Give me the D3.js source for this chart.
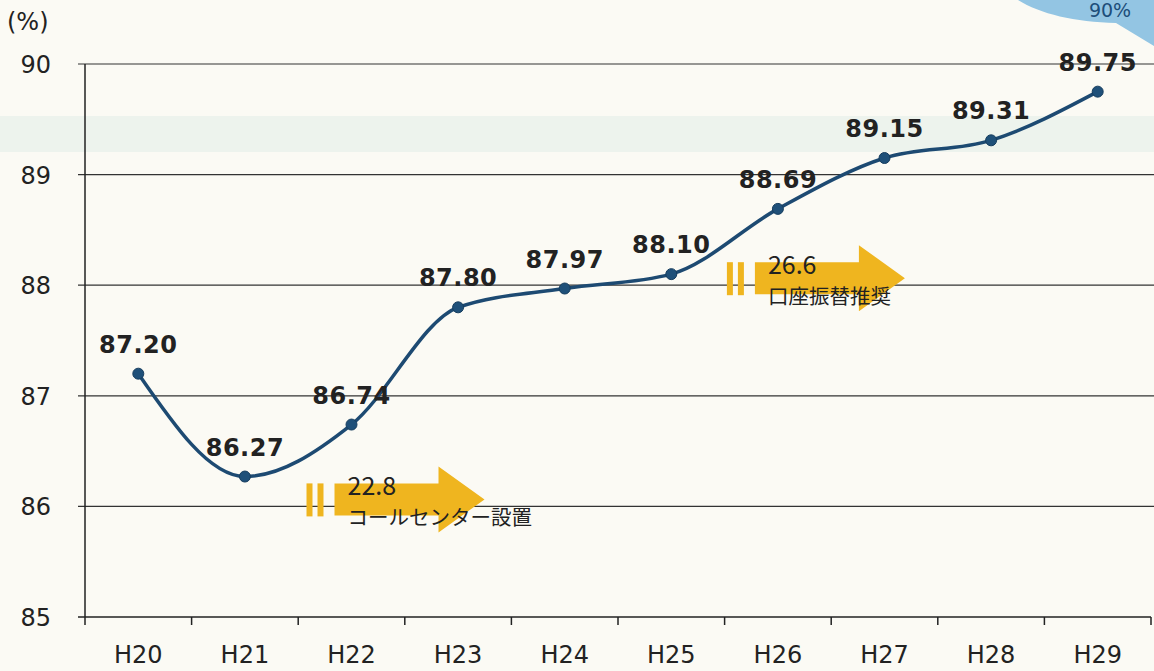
<!DOCTYPE html>
<html>
<head>
<meta charset="utf-8">
<script src="https://cdn.jsdelivr.net/npm/d3@7"></script>
<style>
  html, body { margin: 0; padding: 0; background: #fbfaf4; }
  svg { display: block; }
  .tick-label { font-family: "DejaVu Sans", Verdana, sans-serif; fill: #222; }
  .val { font-family: "DejaVu Sans", Verdana, sans-serif; font-weight: bold; fill: #222; }
  .note { font-family: "Noto Sans CJK JP", sans-serif; fill: #222; }
</style>
</head>
<body>
<svg id="chart" width="1154" height="671"></svg>
<script>
// data
const years = ["H20", "H21", "H22", "H23", "H24", "H25", "H26", "H27", "H28", "H29"];
const rates = [87.20, 86.27, 86.74, 87.80, 87.97, 88.10, 88.69, 89.15, 89.31, 89.75];
const yTicks = [85, 86, 87, 88, 89, 90];
const notes = [
    {year: "H22", value: 86.0, lines: ["22.8", "コールセンター設置"]},
    {year: "H26", value: 88.0, lines: ["26.6", "口座振替推奨"]}
];

// where each arrow starts, relative to its year's centre
const arrowDx = {H22: -45, H26: -51};

const W = 1154, H = 671;
const plotLeft = 85, plotRight = 1151, plotTop = 64, plotBottom = 617;

const svg = d3.select("#chart");

svg.append("rect").attr("width", W).attr("height", H).attr("fill", "#fbfaf4");
// faint band showing through from the page behind
svg.append("rect")
    .attr("x", 0).attr("y", 116).attr("width", W).attr("height", 36)
    .attr("fill", "#e4efe8").attr("opacity", 0.6);

// blue bubble in the corner
const bubble = svg.append("g");
bubble.append("path")
    .attr("d", "M1018,0 C1040,14 1075,22 1116,23 L1154,46 L1154,0 Z")
    .attr("fill", "#93c5e3");
bubble.append("text")
    .attr("x", 1110).attr("y", 17)
    .attr("text-anchor", "middle")
    .attr("font-family", "DejaVu Sans, sans-serif")
    .attr("font-size", 19)
    .attr("fill", "#1d4e7a")
    .text("90%");

const x = d3.scaleBand().domain(years).range([plotLeft, plotRight]);
const y = d3.scaleLinear().domain([85, 90]).range([plotBottom, plotTop]);
const cx = d => x(d) + x.bandwidth() / 2;

// gridlines
svg.append("g").selectAll("line")
    .data(yTicks.filter(t => t > 85))
    .enter().append("line")
    .attr("x1", plotLeft - 7).attr("x2", W)
    .attr("y1", d => y(d)).attr("y2", d => y(d))
    .attr("stroke", "#333").attr("stroke-width", 1.2);

// y axis
svg.append("line")
    .attr("x1", plotLeft).attr("x2", plotLeft)
    .attr("y1", y(90)).attr("y2", plotBottom)
    .attr("stroke", "#222").attr("stroke-width", 1.5);

// x axis
svg.append("line")
    .attr("x1", plotLeft - 7).attr("x2", plotRight)
    .attr("y1", plotBottom).attr("y2", plotBottom)
    .attr("stroke", "#222").attr("stroke-width", 1.5);

const bounds = years.map(d => x(d)).concat([plotRight]);
svg.append("g").selectAll("line")
    .data(bounds)
    .enter().append("line")
    .attr("x1", d => d).attr("x2", d => d)
    .attr("y1", plotBottom).attr("y2", plotBottom + 8)
    .attr("stroke", "#222").attr("stroke-width", 1.5);

svg.append("g").selectAll("text")
    .data(yTicks)
    .enter().append("text")
    .attr("class", "tick-label")
    .attr("x", 51).attr("y", d => y(d) + 9)
    .attr("text-anchor", "end")
    .attr("font-size", 24)
    .text(d => d);

svg.append("g").selectAll("text")
    .data(years)
    .enter().append("text")
    .attr("class", "tick-label")
    .attr("x", d => cx(d)).attr("y", 663)
    .attr("text-anchor", "middle")
    .attr("font-size", 24)
    .text(d => d);

svg.append("text")
    .attr("class", "tick-label")
    .attr("x", 7).attr("y", 30)
    .attr("font-size", 24)
    .text("(%)");

// arrows with notes
const gold = "#efb51f";
notes.forEach(n => {
    const x0 = cx(n.year) + arrowDx[n.year];
    const yc = y(n.value) - 7;
    const g = svg.append("g");
    g.append("rect").attr("x", x0).attr("y", yc - 16).attr("width", 6).attr("height", 33).attr("fill", gold);
    g.append("rect").attr("x", x0 + 11).attr("y", yc - 16).attr("width", 6).attr("height", 33).attr("fill", gold);
    const bx = x0 + 28, hx = x0 + 132, tip = x0 + 178;
    g.append("path")
        .attr("d", `M${bx},${yc - 16} L${hx},${yc - 16} L${hx},${yc - 33} L${tip},${yc} L${hx},${yc + 33} L${hx},${yc + 16} L${bx},${yc + 16} Z`)
        .attr("fill", gold);
    g.selectAll("text")
        .data(n.lines)
        .enter().append("text")
        .attr("class", "note")
        .attr("x", x0 + 41)
        .attr("y", (d, i) => yc - 4 + i * 30)
        .attr("font-size", (d, i) => i === 0 ? 25 : 20.5)
        .text(d => d);
});

// the line
const pts = years.map((d, i) => [cx(d), y(rates[i])]);
svg.append("path")
    .attr("d", d3.line().curve(d3.curveMonotoneX)(pts))
    .attr("fill", "none")
    .attr("stroke", "#1d4a72")
    .attr("stroke-width", 3.5);

svg.append("g").selectAll("circle")
    .data(pts)
    .enter().append("circle")
    .attr("cx", d => d[0]).attr("cy", d => d[1])
    .attr("r", 5.5)
    .attr("fill", "#1f5079")
    .attr("stroke", "#163d5e").attr("stroke-width", 1);

svg.append("g").selectAll("text")
    .data(rates)
    .enter().append("text")
    .attr("class", "val")
    .attr("x", (d, i) => cx(years[i]))
    .attr("y", d => y(d) - 21)
    .attr("text-anchor", "middle")
    .attr("font-size", 24)
    .attr("letter-spacing", 0.5)
    .text(d => d.toFixed(2));
</script>
</body>
</html>
